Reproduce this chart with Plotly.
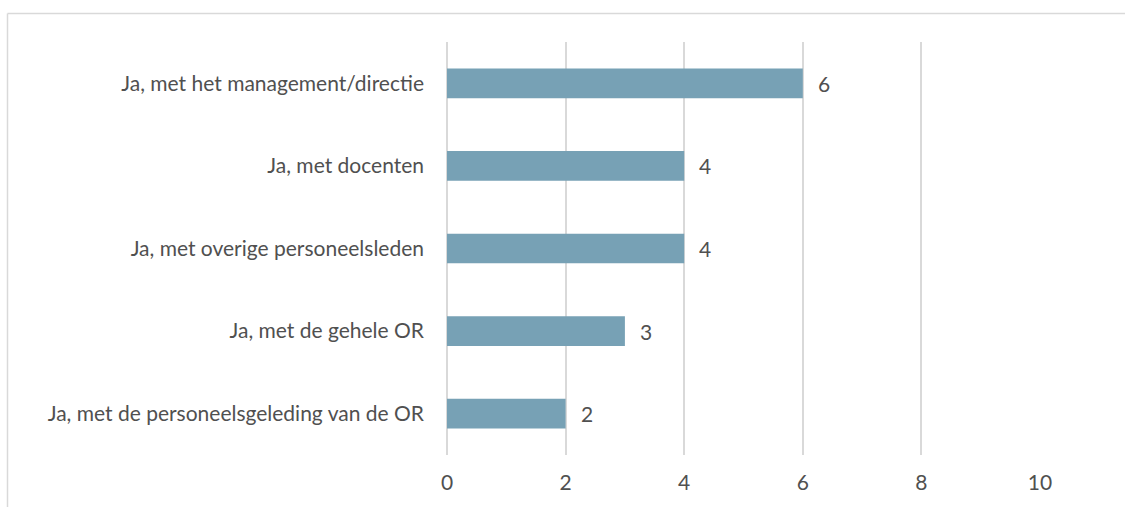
import plotly.graph_objects as go

# Categories (bottom to top as drawn on the y axis) and their counts
categories = [
    "Ja, met de personeelsgeleding van de OR",
    "Ja, met de gehele OR",
    "Ja, met overige personeelsleden",
    "Ja, met docenten",
    "Ja, met het management/directie",
]
counts = [2, 3, 4, 4, 6]
x_ticks = [0, 2, 4, 6, 8, 10]

W, H = 1125, 507
M_L, M_R, M_T, M_B = 447, 85, 42, 52

BAR_COLOR = "#77a1b5"
TEXT_COLOR = "#505050"
GRID_COLOR = "#d9d9d9"
FONT = "Lato"
FS = 21

fig = go.Figure(
    go.Bar(
        x=counts,
        y=categories,
        orientation="h",
        marker=dict(color=BAR_COLOR, line=dict(width=0)),
        width=0.36,
        hoverinfo="skip",
    )
)

# value labels just past the end of each bar
for c, v in zip(categories, counts):
    fig.add_annotation(
        x=v, y=c, text=str(v), showarrow=False,
        xanchor="left", yanchor="middle", xshift=13,
        font=dict(family=FONT, size=FS, color=TEXT_COLOR),
    )

# outer chart frame (top and left edges)
pw = W - M_L - M_R
ph = H - M_T - M_B
fx0 = (7.5 - M_L) / pw
fy_top = (H - M_B - 13.5) / ph
fig.add_shape(type="line", xref="paper", yref="paper",
              x0=fx0, x1=(W + 5 - M_L) / pw, y0=fy_top, y1=fy_top,
              line=dict(color=GRID_COLOR, width=1.5))
fig.add_shape(type="line", xref="paper", yref="paper",
              x0=fx0, x1=fx0, y0=fy_top, y1=-(M_B + 5) / ph,
              line=dict(color=GRID_COLOR, width=1.5))

fig.update_layout(
    width=W, height=H,
    margin=dict(l=M_L, r=M_R, t=M_T, b=M_B, autoexpand=False),
    paper_bgcolor="white", plot_bgcolor="white",
    showlegend=False,
    bargap=0.64,
    xaxis=dict(
        range=[0, 10], tickvals=x_ticks, ticktext=[str(t) for t in x_ticks],
        showgrid=True, gridcolor=GRID_COLOR, gridwidth=2,
        zeroline=True, zerolinecolor=GRID_COLOR, zerolinewidth=2,
        showline=False, ticks="",
        tickfont=dict(family=FONT, size=FS, color=TEXT_COLOR),
        ticklabelstandoff=13, fixedrange=True,
    ),
    yaxis=dict(
        categoryorder="array", categoryarray=categories,
        showgrid=False, zeroline=False, showline=False, ticks="",
        tickfont=dict(family=FONT, size=FS, color=TEXT_COLOR),
        ticklabelstandoff=22, fixedrange=True,
    ),
)

fig.write_html("out.html")
